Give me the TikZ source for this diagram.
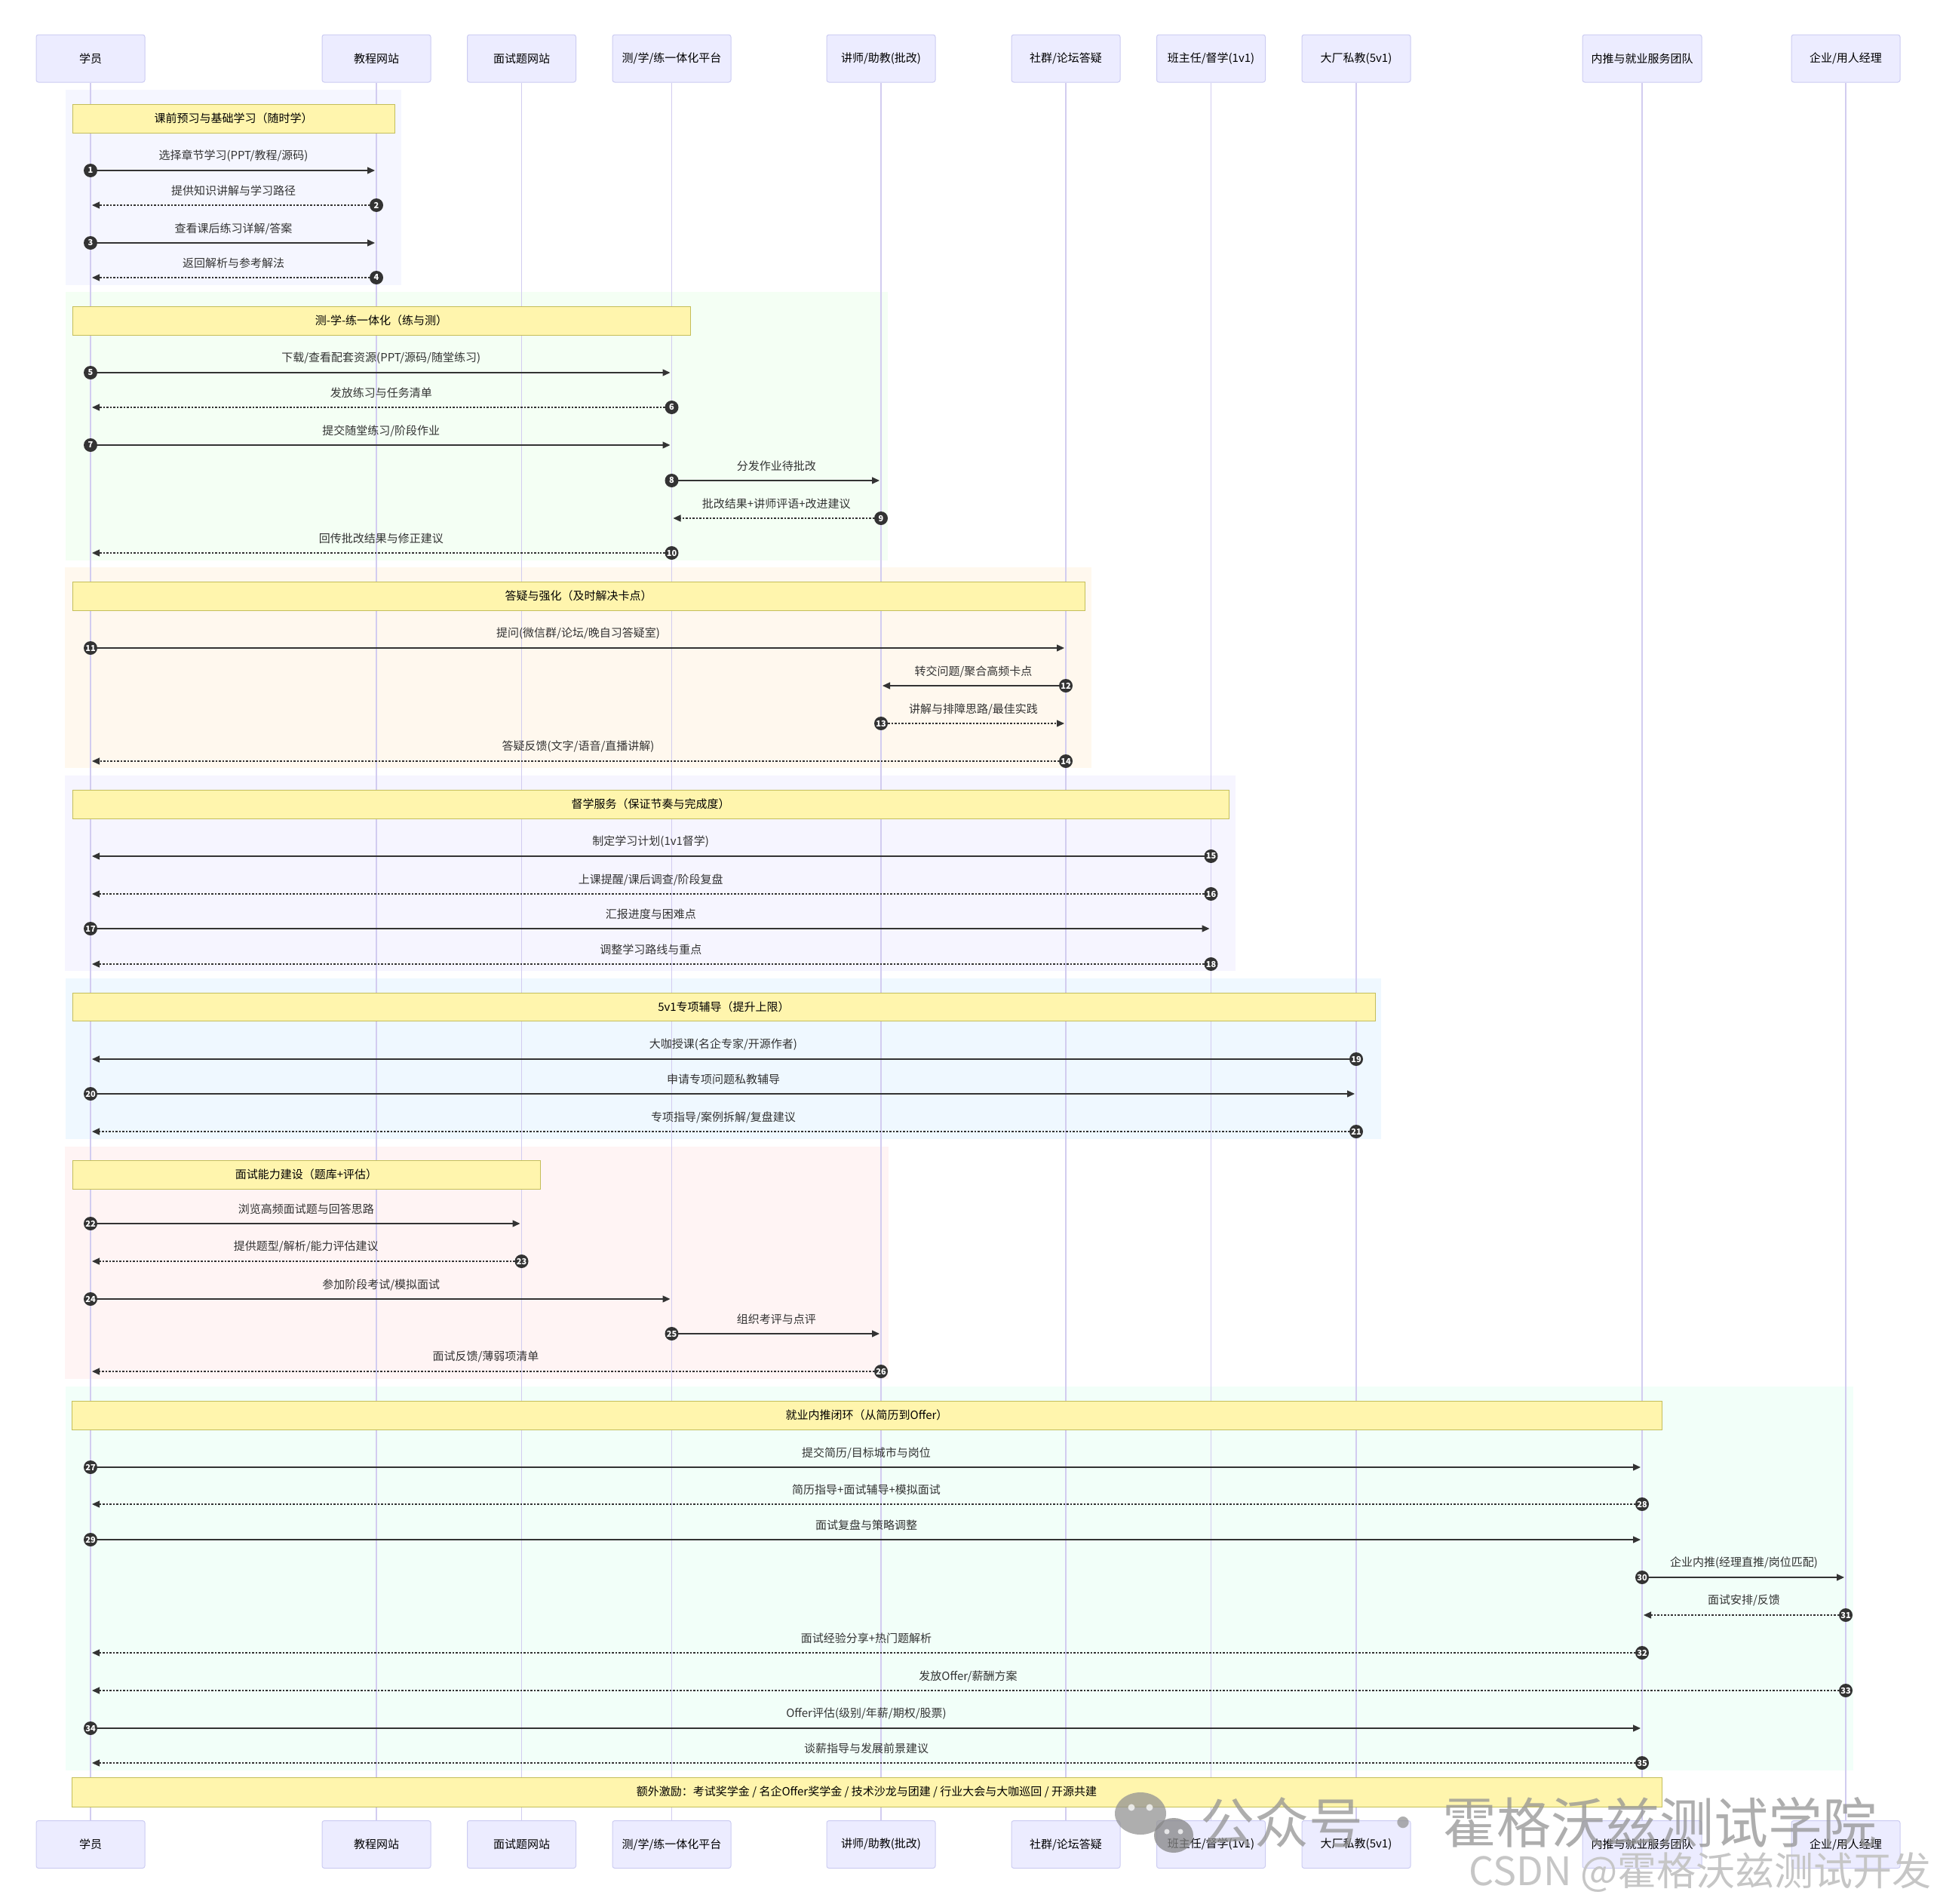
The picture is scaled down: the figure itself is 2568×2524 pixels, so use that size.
\documentclass[tikz,border=0pt]{standalone}
\usepackage{fontspec}
\setmainfont{Noto Sans CJK SC}
\usetikzlibrary{arrows.meta,calc}
\definecolor{actorfill}{HTML}{ECECFF}
\definecolor{actorborder}{HTML}{CCCCF2}
\definecolor{lifecol}{HTML}{D2CCF0}
\definecolor{notefill}{HTML}{FFF5AD}
\definecolor{noteborder}{HTML}{C4BE5A}
\definecolor{ink}{HTML}{333333}
\definecolor{secA}{HTML}{F5F6FF}
\definecolor{secB}{HTML}{F4FFF4}
\definecolor{secC}{HTML}{FFF8EE}
\definecolor{secD}{HTML}{F6F5FF}
\definecolor{secE}{HTML}{EFF8FF}
\definecolor{secF}{HTML}{FFF4F4}
\definecolor{secG}{HTML}{F2FFF9}
\newcommand\lblfont{\fontsize{15}{18}\selectfont}
\newcommand\msg[6]{%
  \coordinate (s#1) at (#2 |- 0,#4);
  \coordinate (e#1) at (#3 |- 0,#4);
  \draw[#5] (s#1) -- (e#1) node[midway,yshift=19pt,msglabel]{#6};
  \node[seqnum] (q#1) at (s#1) {#1};
}
\tikzset{
  actorbox/.style={draw=actorborder,fill=actorfill,line width=1pt,minimum width=144,minimum height=63,rounded corners=3,font=\lblfont,text=black,inner sep=2pt},
  lifeline/.style={draw=lifecol,line width=1.1pt},
  notebox/.style={draw=noteborder,fill=notefill,line width=1pt},
  notetext/.style={font=\lblfont,text=black},
  msglabel/.style={font=\lblfont,text=ink,inner sep=0pt},
  msgbase/.style={draw=ink,line width=1.3pt,-{Triangle[length=10pt,width=9pt]},shorten >=2pt},
  solidmsg/.style={msgbase},
  dotmsg/.style={msgbase,dash pattern=on 2.5pt off 2pt},
  seqnum/.style={circle,fill=ink,text=white,minimum size=18,inner sep=0pt,font=\fontsize{11}{11}\selectfont\bfseries},
}
\begin{document}
\begin{tikzpicture}[x=1pt,y=-1pt]
\useasboundingbox (0,0) rectangle (2568,2524);
\fill[white] (0,0) rectangle (2568,2524);
% section backgrounds
\fill[secA] (87,119) rectangle (532,378);
\fill[secB] (87,387) rectangle (1177,743);
\fill[secC] (86,752) rectangle (1447,1018);
\fill[secD] (86,1028) rectangle (1638,1287);
\fill[secE] (87,1297) rectangle (1831,1510);
\fill[secF] (86,1520) rectangle (1178,1828);
\fill[secG] (87,1838) rectangle (2457,2347);
% actors top
\node[actorbox] (a1t) at (120,77.5) {学员};
\node[actorbox] (a2t) at (499,77.5) {教程网站};
\node[actorbox] (a3t) at (691.5,77.5) {面试题网站};
\node[actorbox,minimum width=157] (a4t) at (890.5,77.5) {测/学/练一体化平台};
\node[actorbox] (a5t) at (1168,77.5) {讲师/助教(批改)};
\node[actorbox] (a6t) at (1413,77.5) {社群/论坛答疑};
\node[actorbox] (a7t) at (1605.5,77.5) {班主任/督学(1v1)};
\node[actorbox] (a8t) at (1798,77.5) {大厂私教(5v1)};
\node[actorbox,minimum width=158] (a9t) at (2177,77.5) {内推与就业服务团队};
\node[actorbox] (a10t) at (2447,77.5) {企业/用人经理};
% actors bottom
\node[actorbox] (a1b) at (120,2445) {学员};
\node[actorbox] (a2b) at (499,2445) {教程网站};
\node[actorbox] (a3b) at (691.5,2445) {面试题网站};
\node[actorbox,minimum width=157] (a4b) at (890.5,2445) {测/学/练一体化平台};
\node[actorbox] (a5b) at (1168,2445) {讲师/助教(批改)};
\node[actorbox] (a6b) at (1413,2445) {社群/论坛答疑};
\node[actorbox] (a7b) at (1605.5,2445) {班主任/督学(1v1)};
\node[actorbox] (a8b) at (1798,2445) {大厂私教(5v1)};
\node[actorbox,minimum width=158] (a9b) at (2177,2445) {内推与就业服务团队};
\node[actorbox] (a10b) at (2447,2445) {企业/用人经理};
% lifelines
\foreach \i in {1,...,10} {\draw[lifeline] (a\i t.south) -- (a\i b.north);}
% notes
\draw[notebox] (96,138) rectangle node[notetext]{课前预习与基础学习（随时学）} (523,176);
\draw[notebox] (96,406) rectangle node[notetext]{测-学-练一体化（练与测）} (915,444);
\draw[notebox] (96,771) rectangle node[notetext]{答疑与强化（及时解决卡点）} (1438,809);
\draw[notebox] (96,1047) rectangle node[notetext]{督学服务（保证节奏与完成度）} (1629,1085);
\draw[notebox] (96,1316) rectangle node[notetext]{5v1专项辅导（提升上限）} (1823,1353);
\draw[notebox] (96,1538) rectangle node[notetext]{面试能力建设（题库+评估）} (716,1576);
\draw[notebox] (95,1857) rectangle node[notetext]{就业内推闭环（从简历到Offer）} (2203,1895);
\draw[notebox] (95,2356) rectangle node[notetext]{额外激励：考试奖学金 / 名企Offer奖学金 / 技术沙龙与团建 / 行业大会与大咖巡回 / 开源共建} (2203,2395);
% messages
\msg{1}{a1t}{a2t}{226}{solidmsg}{选择章节学习(PPT/教程/源码)}
\msg{2}{a2t}{a1t}{272}{dotmsg}{提供知识讲解与学习路径}
\msg{3}{a1t}{a2t}{322}{solidmsg}{查看课后练习详解/答案}
\msg{4}{a2t}{a1t}{368}{dotmsg}{返回解析与参考解法}
\msg{5}{a1t}{a4t}{494}{solidmsg}{下载/查看配套资源(PPT/源码/随堂练习)}
\msg{6}{a4t}{a1t}{540}{dotmsg}{发放练习与任务清单}
\msg{7}{a1t}{a4t}{590}{solidmsg}{提交随堂练习/阶段作业}
\msg{8}{a4t}{a5t}{637}{solidmsg}{分发作业待批改}
\msg{9}{a5t}{a4t}{687}{dotmsg}{批改结果+讲师评语+改进建议}
\msg{10}{a4t}{a1t}{733}{dotmsg}{回传批改结果与修正建议}
\msg{11}{a1t}{a6t}{859}{solidmsg}{提问(微信群/论坛/晚自习答疑室)}
\msg{12}{a6t}{a5t}{909}{solidmsg}{转交问题/聚合高频卡点}
\msg{13}{a5t}{a6t}{959}{dotmsg}{讲解与排障思路/最佳实践}
\msg{14}{a6t}{a1t}{1009}{dotmsg}{答疑反馈(文字/语音/直播讲解)}
\msg{15}{a7t}{a1t}{1135}{solidmsg}{制定学习计划(1v1督学)}
\msg{16}{a7t}{a1t}{1185}{dotmsg}{上课提醒/课后调查/阶段复盘}
\msg{17}{a1t}{a7t}{1231}{solidmsg}{汇报进度与困难点}
\msg{18}{a7t}{a1t}{1278}{dotmsg}{调整学习路线与重点}
\msg{19}{a8t}{a1t}{1404}{solidmsg}{大咖授课(名企专家/开源作者)}
\msg{20}{a1t}{a8t}{1450}{solidmsg}{申请专项问题私教辅导}
\msg{21}{a8t}{a1t}{1500}{dotmsg}{专项指导/案例拆解/复盘建议}
\msg{22}{a1t}{a3t}{1622}{solidmsg}{浏览高频面试题与回答思路}
\msg{23}{a3t}{a1t}{1672}{dotmsg}{提供题型/解析/能力评估建议}
\msg{24}{a1t}{a4t}{1722}{solidmsg}{参加阶段考试/模拟面试}
\msg{25}{a4t}{a5t}{1768}{solidmsg}{组织考评与点评}
\msg{26}{a5t}{a1t}{1818}{dotmsg}{面试反馈/薄弱项清单}
\msg{27}{a1t}{a9t}{1945}{solidmsg}{提交简历/目标城市与岗位}
\msg{28}{a9t}{a1t}{1994}{dotmsg}{简历指导+面试辅导+模拟面试}
\msg{29}{a1t}{a9t}{2041}{solidmsg}{面试复盘与策略调整}
\msg{30}{a9t}{a10t}{2091}{solidmsg}{企业内推(经理直推/岗位匹配)}
\msg{31}{a10t}{a9t}{2141}{dotmsg}{面试安排/反馈}
\msg{32}{a9t}{a1t}{2191}{dotmsg}{面试经验分享+热门题解析}
\msg{33}{a10t}{a1t}{2241}{dotmsg}{发放Offer/薪酬方案}
\msg{34}{a1t}{a9t}{2291}{solidmsg}{Offer评估(级别/年薪/期权/股票)}
\msg{35}{a9t}{a1t}{2337}{dotmsg}{谈薪指导与发展前景建议}
% watermark
\begin{scope}[opacity=0.75]
\fill[gray!85] (1512,2404) ellipse (34 and 28);
\fill[gray!95] (1556,2433) ellipse (26 and 23);
\fill[white] (1500,2396) circle (4.5);
\fill[white] (1524,2396) circle (4.5);
\fill[white] (1547,2428) circle (3.5);
\fill[white] (1565,2428) circle (3.5);
\node[font=\fontsize{72}{80}\selectfont,text=gray!85] (wm1) at (2040,2416) {公众号 · 霍格沃兹测试学院};
\end{scope}
\node[font=\fontsize{52}{58}\selectfont,text=gray!45,anchor=east] (wm2) at (2564,2482) {CSDN @霍格沃兹测试开发};
\end{tikzpicture}
\end{document}
